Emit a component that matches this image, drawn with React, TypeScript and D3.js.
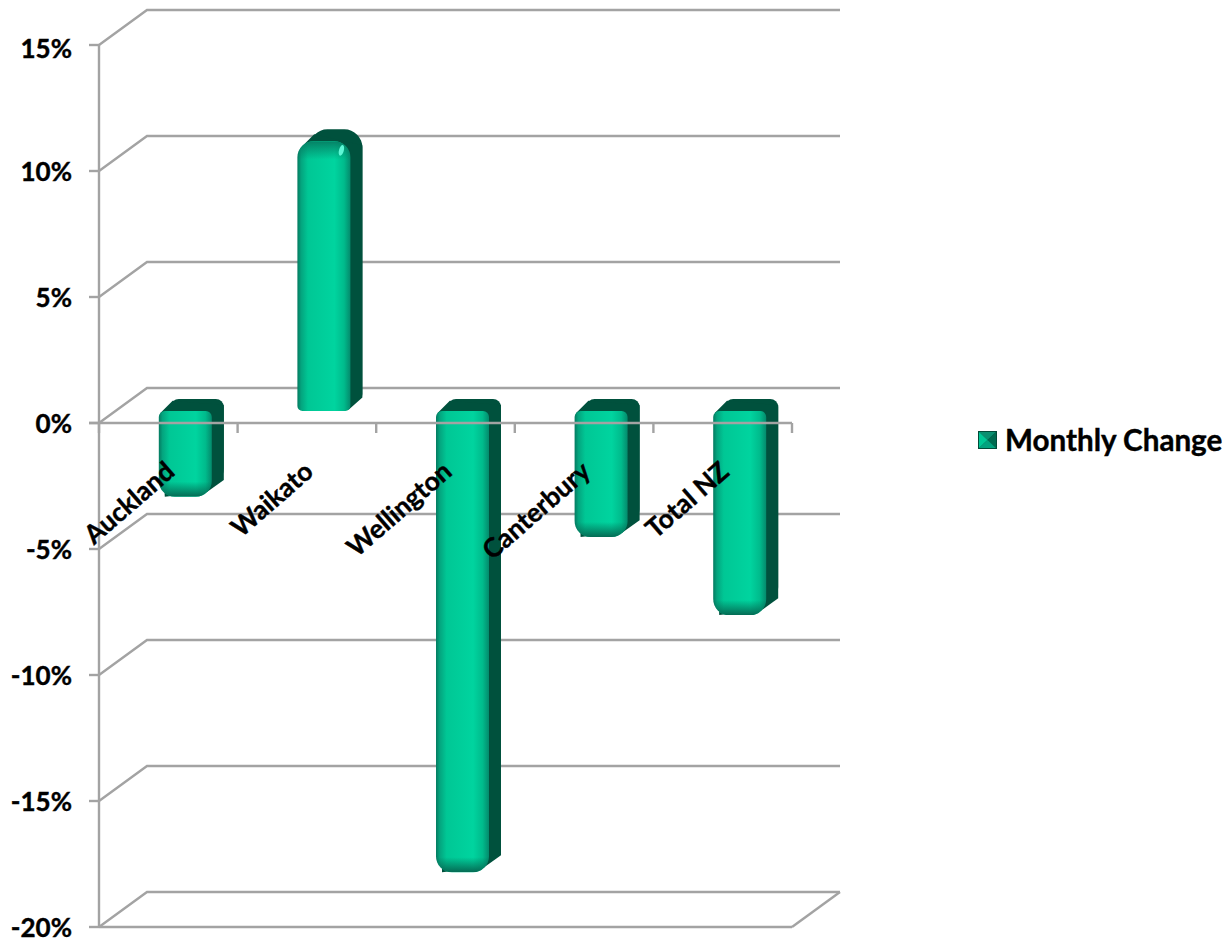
import React from "react";
import * as d3 from "d3";

const categories = ["Auckland", "Waikato", "Wellington", "Canterbury", "Total NZ"];
const changes = [-3.4, 10.7, -18.3, -5.0, -8.1];
const yTicks = [15, 10, 5, 0, -5, -10, -15, -20];
const seriesName = "Monthly Change";

const FONT = "Lato, Carlito, 'Open Sans', sans-serif";
const GRID = "#a3a3a3";
const y = d3.scaleLinear().domain([-20, 15]).range([927, 45]);
const x = d3.scaleBand<string>().domain(categories).range([99, 792]);
const wall = { dx: 48, dy: -35 };
const depth = { dx: 12, dy: -12 };
const barW = 53;

function roundedBar(l: number, t: number, w: number, h: number, rt: number, rb: number) {
  const p = d3.path();
  p.moveTo(l + rt, t);
  p.lineTo(l + w - rt, t);
  p.arcTo(l + w, t, l + w, t + rt, rt);
  p.lineTo(l + w, t + h - rb);
  p.arcTo(l + w, t + h, l + w - rb, t + h, rb);
  p.lineTo(l + rb, t + h);
  p.arcTo(l, t + h, l, t + h - rb, rb);
  p.lineTo(l, t + rt);
  p.arcTo(l, t, l + rt, t, rt);
  p.closePath();
  return p.toString();
}

export default function App() {
  const zeroFrontY = y(0) + depth.dy;
  const bars = categories.map((c, i) => {
    const v = changes[i];
    const centre = x(c)! + x.bandwidth() / 2 + 17;
    const l = centre - barW / 2;
    const t = v >= 0 ? y(v) + depth.dy : zeroFrontY;
    const b = v >= 0 ? zeroFrontY : y(v) + depth.dy;
    return { c, v, l, t, h: b - t };
  });
  return (
    <svg width={1228} height={940} style={{ position: "absolute", left: 0, top: 0, background: "#fff" }} fontFamily={FONT}>
      <defs>
        <linearGradient id="frontH" x1="0" x2="1" y1="0" y2="0">
          <stop offset="0" stopColor="#047a60" />
          <stop offset="0.07" stopColor="#04a47e" />
          <stop offset="0.2" stopColor="#00c795" />
          <stop offset="0.7" stopColor="#00d49f" />
          <stop offset="0.88" stopColor="#00bb8c" />
          <stop offset="1" stopColor="#048a6c" />
        </linearGradient>
        <linearGradient id="fadeDown" x1="0" x2="0" y1="0" y2="1">
          <stop offset="0" stopColor="#056b54" stopOpacity="0" />
          <stop offset="1" stopColor="#056b54" stopOpacity="1" />
        </linearGradient>
        <linearGradient id="fadeUp" x1="0" x2="0" y1="1" y2="0">
          <stop offset="0" stopColor="#067a60" stopOpacity="0" />
          <stop offset="1" stopColor="#067a60" stopOpacity="0.9" />
        </linearGradient>
        {bars.map((b, i) => (
          <clipPath id={`clip${i}`} key={b.c}>
            <path d={roundedBar(b.l, b.t, barW, b.h, b.v >= 0 ? 16 : 6, b.v >= 0 ? 5 : 16)} />
          </clipPath>
        ))}
      </defs>

      {/* back wall gridlines */}
      <g stroke={GRID} strokeWidth={2.4} fill="none">
        {yTicks.map((t) => (
          <path key={t} d={`M99,${y(t)}L${99 + wall.dx},${y(t) + wall.dy}L${792 + wall.dx},${y(t) + wall.dy}`} />
        ))}
        <path d={`M792,${y(-20)}L${792 + wall.dx},${y(-20) + wall.dy}`} />
      </g>

      {/* bars */}
      {bars.map((b, i) => {
        const rt = b.v >= 0 ? 16 : 6;
        const rb = b.v >= 0 ? 5 : 16;
        const d = roundedBar(b.l, b.t, barW, b.h, rt, rb);
        const r = b.l + barW;
        const bot = b.t + b.h;
        return (
          <g key={b.c}>
            <path d={roundedBar(b.l + depth.dx, b.t + depth.dy, barW, b.h, rt + 2, rb)} fill="#00513d" />
            <path
              d={`M${b.l + rt * 0.3},${b.t + rt * 0.3}L${b.l + rt * 0.3 + depth.dx},${b.t + rt * 0.3 + depth.dy}L${r + depth.dx},${b.t + depth.dy + rt}L${r + depth.dx},${bot + depth.dy - rb * 0.3}L${r - rb * 0.3},${bot - rb * 0.3}L${b.l + rt},${bot}Z`}
              fill="#00513d"
            />
            <path d={d} fill="url(#frontH)" />
            <g clipPath={`url(#clip${i})`}>
              {b.v >= 0 ? (
                <rect x={b.l} y={b.t} width={barW} height={18} fill="url(#fadeUp)" />
              ) : (
                <rect x={b.l} y={bot - 15} width={barW} height={15} fill="url(#fadeDown)" />
              )}
            </g>
            {b.v >= 0 && (
              <ellipse cx={r - 9} cy={b.t + 9} rx={2.4} ry={5.5} transform={`rotate(15 ${r - 9} ${b.t + 9})`} fill="#5ff7d6" />
            )}
          </g>
        );
      })}

      {/* front axes */}
      <g stroke={GRID} strokeWidth={2.4} fill="none">
        <line x1={99} x2={99} y1={y(15)} y2={y(-20)} />
        {yTicks.map((t) => (
          <line key={t} x1={89} x2={99} y1={y(t)} y2={y(t)} />
        ))}
        <line x1={89} x2={792} y1={y(0)} y2={y(0)} />
        <line x1={99} x2={792} y1={y(-20)} y2={y(-20)} />
        {categories.map((c) => (
          <line key={c} x1={x(c)!} x2={x(c)!} y1={y(0)} y2={y(0) + 10} />
        ))}
        <line x1={792} x2={792} y1={y(0)} y2={y(0) + 10} />
      </g>

      {/* y labels */}
      <g fontSize={26} fontWeight={700} fill="#000" stroke="#000" strokeWidth={0.4} textAnchor="end">
        {yTicks.map((t) => (
          <text key={t} x={72} y={y(t) + (t === 15 ? 13 : 10)}>{`${t}%`}</text>
        ))}
      </g>

      {/* category labels */}
      <g fontSize={26.3} fontWeight={700} fill="#000" stroke="#000" strokeWidth={0.4} textAnchor="end">
        {categories.map((c) => {
          const px = x(c)! + x.bandwidth() / 2 + 8;
          return (
            <text key={c} transform={`translate(${px},${y(0) + 51}) rotate(-41)`}>
              {c}
            </text>
          );
        })}
      </g>

      {/* legend */}
      <g>
        <rect x={978} y={431} width={19} height={18} fill="#00513d" />
        <polygon points="978,431 997,431 987.5,440" fill="#0a8f70" />
        <polygon points="978,431 978,449 987.5,440" fill="#00c795" />
        <polygon points="997,431 997,449 987.5,440" fill="#006a50" />
        <polygon points="978,449 997,449 987.5,440" fill="#03a27e" />
        <rect x={978.5} y={431.5} width={18} height={17} fill="none" stroke="#024a38" />
        <text x={1005} y={451} fontSize={29.6} fontWeight={700} fill="#000" stroke="#000" strokeWidth={0.4}>{seriesName}</text>
      </g>
    </svg>
  );
}
